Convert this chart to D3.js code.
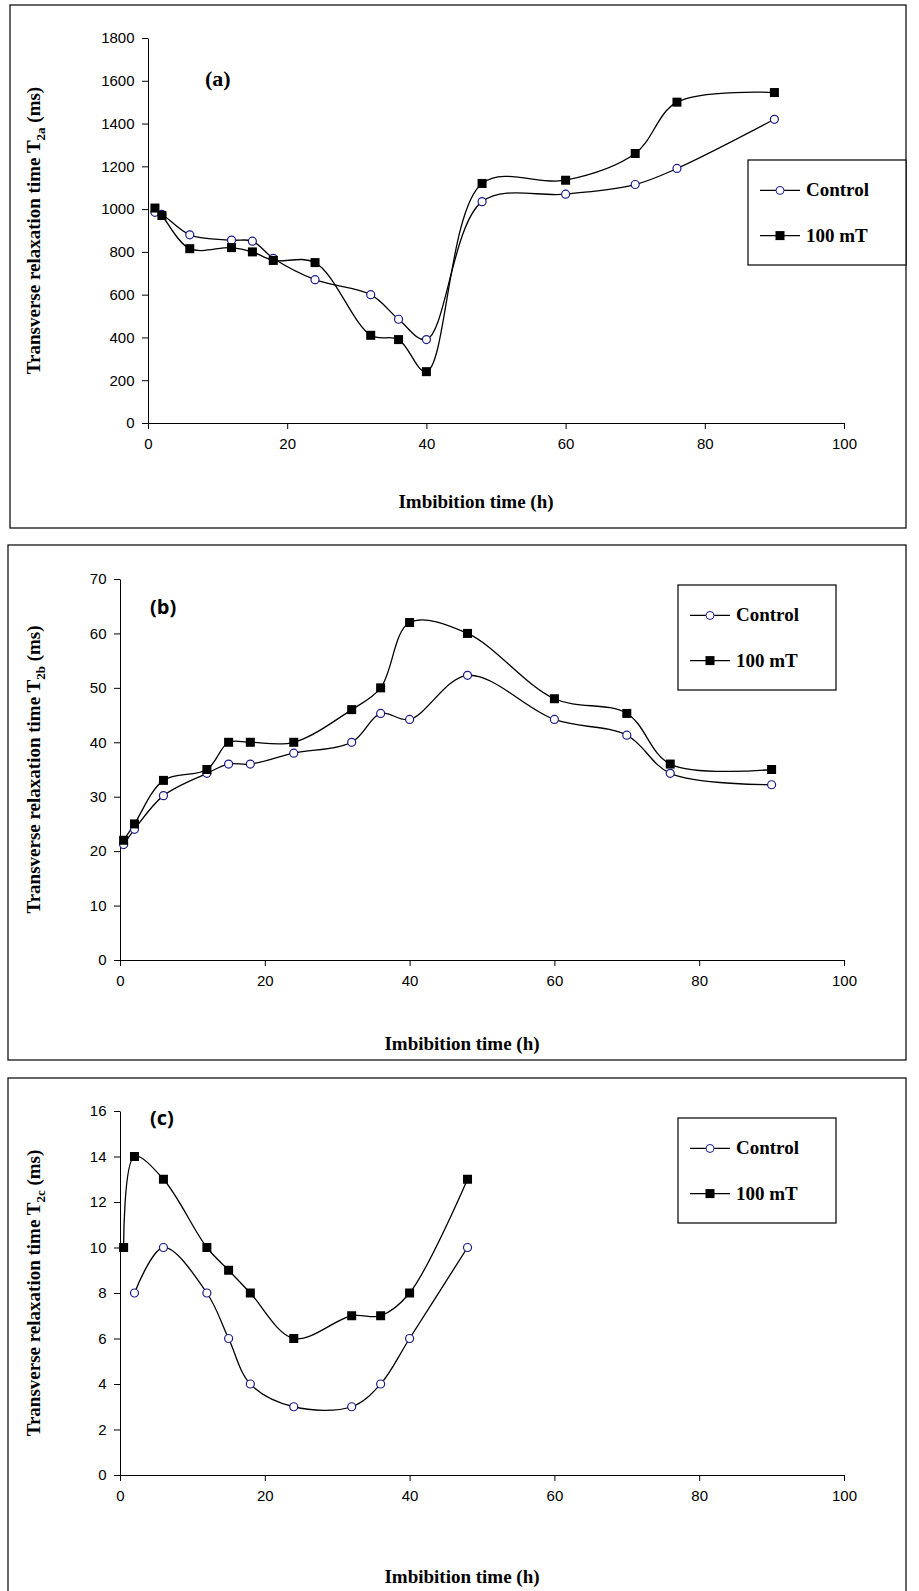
<!DOCTYPE html>
<html><head><meta charset="utf-8">
<script src="https://cdn.jsdelivr.net/npm/d3@7"></script>
<style>html,body{margin:0;background:#fff;overflow:hidden}svg{display:block}</style>
</head><body>
<svg id="c" width="919" height="1591"></svg>
<script>
// data
const timeA = [1, 2, 6, 12, 15, 18, 24, 32, 36, 40, 48, 60, 70, 76, 90]
const controlA = [985, 975, 880, 855, 850, 770, 670, 600, 485, 390, 1035, 1070, 1115, 1190, 1420]
const magA = [1005, 970, 815, 820, 800, 760, 750, 410, 390, 240, 1120, 1135, 1260, 1500, 1545]

const timeB = [0.5, 2, 6, 12, 15, 18, 24, 32, 36, 40, 48, 60, 70, 76, 90]
const controlB = [21.2, 24, 30.2, 34.3, 36, 36, 38, 40, 45.3, 44.2, 52.3, 44.2, 41.3, 34.3, 32.2]
const magB = [22, 25, 33, 35, 40, 40, 40, 46, 50, 62, 60, 48, 45.3, 36, 35]

const timeCc = [2, 6, 12, 15, 18, 24, 32, 36, 40, 48]
const controlC = [8, 10, 8, 6, 4, 3, 3, 4, 6, 10]
const timeCm = [0.5, 2, 6, 12, 15, 18, 24, 32, 36, 40, 48]
const magC = [10, 14, 13, 10, 9, 8, 6, 7, 7, 8, 13]

const xTicks = [0, 20, 40, 60, 80, 100]

const panels = [
  {frame:[10,5,896,523], x0:148, x1:844, yTop:38, yBot:423, ymax:1800, ystep:200, label:'(a)', lx:205, ly:86, lfont:'bold 22px "Liberation Serif"', sub:'2a',
   c:[timeA, controlA], m:[timeA, magA], leg:[748,160,158,105], xt:508},
  {frame:[8,545,898,515], x0:120, x1:844, yTop:579, yBot:960, ymax:70, ystep:10, label:'(b)', lx:150, ly:614, lfont:'bold 20px "Open Sans"', sub:'2b',
   c:[timeB, controlB], m:[timeB, magB], leg:[678,585,158,105], xt:1050},
  {frame:[8,1078,898,515], x0:120, x1:844, yTop:1111, yBot:1475, ymax:16, ystep:2, label:'(c)', lx:150, ly:1125, lfont:'bold 20px "Open Sans"', sub:'2c',
   c:[timeCc, controlC], m:[timeCm, magC], leg:[678,1118,158,105], xt:1583}
]

const svg = d3.select('#c')

panels.forEach(p => {
  const g = svg.append('g')
  g.append('rect').attr('x',p.frame[0]).attr('y',p.frame[1]).attr('width',p.frame[2]).attr('height',p.frame[3])
    .attr('fill','none').attr('stroke','#000').attr('stroke-width',1.2)
  const x = d3.scaleLinear().domain([0,100]).range([p.x0,p.x1])
  const y = d3.scaleLinear().domain([0,p.ymax]).range([p.yBot,p.yTop])

  g.append('g').attr('transform',`translate(0,${p.yBot})`)
    .call(d3.axisBottom(x).tickValues(xTicks).tickFormat(d3.format('d')).tickSize(6).tickSizeOuter(0))
    .call(a => a.selectAll('text').attr('font-family','Liberation Sans').attr('font-size',15).attr('dy','1.1em'))
  g.append('g').attr('transform',`translate(${p.x0},0)`)
    .call(d3.axisLeft(y).tickValues(d3.range(0,p.ymax+p.ystep/2,p.ystep)).tickFormat(d3.format('d')).tickSize(6).tickSizeOuter(0))
    .call(a => a.selectAll('text').attr('font-family','Liberation Sans').attr('font-size',15).attr('dx','-0.3em'))
  g.selectAll('.domain,.tick line').attr('stroke','#000')

  g.append('text').attr('x',p.lx).attr('y',p.ly).style('font',p.lfont).text(p.label)

  g.append('text').attr('x',(p.x0+p.x1)/2 - 20).attr('y',p.xt).attr('text-anchor','middle')
    .style('font','bold 19px "Liberation Serif"').text('Imbibition time  (h)')
  const yt = g.append('text').attr('transform',`translate(40,${(p.yTop+p.yBot)/2}) rotate(-90)`)
    .attr('text-anchor','middle').style('font','bold 19px "Liberation Serif"')
  yt.append('tspan').text('Transverse relaxation time T')
  yt.append('tspan').attr('font-size',13).attr('dy',5).text(p.sub)
  yt.append('tspan').attr('dy',-5).text(' (ms)')

  const line = d3.line().x(d=>x(d[0])).y(d=>y(d[1])).curve(d3.curveCatmullRom.alpha(0.5))
  const cd = d3.zip(p.c[0], p.c[1]), md = d3.zip(p.m[0], p.m[1])
  g.append('path').attr('d',line(cd)).attr('fill','none').attr('stroke','#000').attr('stroke-width',1.3)
  g.append('path').attr('d',line(md)).attr('fill','none').attr('stroke','#000').attr('stroke-width',1.3)
  g.selectAll('.cc').data(cd).enter().append('circle').attr('cx',d=>x(d[0])).attr('cy',d=>y(d[1])).attr('r',4)
    .attr('fill','#fff').attr('stroke','#1a1a8c').attr('stroke-width',1.2)
  g.selectAll('.mm').data(md).enter().append('rect').attr('x',d=>x(d[0])-4.5).attr('y',d=>y(d[1])-4.5)
    .attr('width',9).attr('height',9).attr('fill','#000')

  const [lx,ly,lw,lh] = p.leg
  g.append('rect').attr('x',lx).attr('y',ly).attr('width',lw).attr('height',lh).attr('fill','#fff').attr('stroke','#000').attr('stroke-width',1.2)
  const r1 = ly+lh*0.29, r2 = ly+lh*0.72
  g.append('line').attr('x1',lx+12).attr('x2',lx+52).attr('y1',r1).attr('y2',r1).attr('stroke','#000').attr('stroke-width',1.3)
  g.append('circle').attr('cx',lx+32).attr('cy',r1).attr('r',4).attr('fill','#fff').attr('stroke','#1a1a8c')
  g.append('line').attr('x1',lx+12).attr('x2',lx+52).attr('y1',r2).attr('y2',r2).attr('stroke','#000').attr('stroke-width',1.3)
  g.append('rect').attr('x',lx+27.5).attr('y',r2-4.5).attr('width',9).attr('height',9)
  g.append('text').attr('x',lx+58).attr('y',r1+6).style('font','bold 19px "Liberation Serif"').text('Control')
  g.append('text').attr('x',lx+58).attr('y',r2+6).style('font','bold 19px "Liberation Serif"').text('100 mT')
})
</script>
</body></html>
